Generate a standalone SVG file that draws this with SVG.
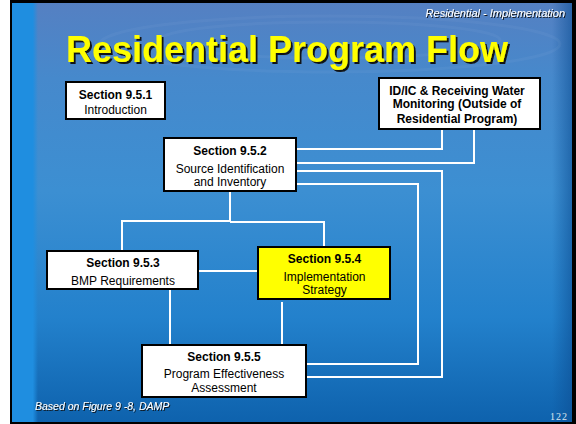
<svg xmlns="http://www.w3.org/2000/svg" width="576" height="424" viewBox="0 0 576 424">
<defs>
<linearGradient id="bg" x1="0" y1="0" x2="0" y2="1">
<stop offset="0" stop-color="#5580c2"/>
<stop offset="0.18" stop-color="#4689cc"/>
<stop offset="0.45" stop-color="#3c8fd2"/>
<stop offset="0.75" stop-color="#2381cc"/>
<stop offset="1" stop-color="#0e62ad"/>
</linearGradient>
<linearGradient id="strip" x1="0" y1="0" x2="1" y2="0">
<stop offset="0" stop-color="#1f8ee0"/>
<stop offset="0.8" stop-color="#1f8ee0"/>
<stop offset="1" stop-color="#1f8ee0" stop-opacity="0"/>
</linearGradient>
<linearGradient id="rightEdge" x1="0" y1="0" x2="1" y2="0">
<stop offset="0" stop-color="#0d4f94" stop-opacity="0"/>
<stop offset="1" stop-color="#0d4f94" stop-opacity="0.6"/>
</linearGradient>
<filter id="sh" x="-5%" y="-20%" width="110%" height="140%">
<feDropShadow dx="2" dy="2" stdDeviation="0.4" flood-color="#111" flood-opacity="0.95"/>
</filter>
<filter id="shs" x="-5%" y="-20%" width="110%" height="140%">
<feDropShadow dx="1" dy="1" stdDeviation="0.3" flood-color="#111" flood-opacity="0.9"/>
</filter>
<style>
.box{fill:#ffffff;stroke:#000;stroke-width:2}
.hl{fill:#ffff00}
.t{font-family:"Liberation Sans",Arial,sans-serif;font-size:12px;fill:#000;text-anchor:middle}
.b{font-weight:bold}
.conn path{fill:none;stroke:#ffffff;stroke-width:2}
.it{font-family:"Liberation Sans",Arial,sans-serif;font-style:italic;fill:#ffffff}
</style>
</defs>
<rect x="0" y="0" width="576" height="424" fill="#ffffff"/>
<rect x="10" y="0" width="566" height="424" fill="#000"/>
<rect x="12" y="3" width="560" height="419" fill="url(#bg)"/>
<rect x="12" y="3" width="26" height="419" fill="url(#strip)"/>
<rect x="552" y="3" width="20" height="419" fill="url(#rightEdge)"/>
<g fill="none" stroke="#ffffff" stroke-opacity="0.04" stroke-width="3">
<ellipse cx="330" cy="40" rx="170" ry="18"/>
<ellipse cx="330" cy="44" rx="230" ry="28"/>
</g>
<g id="header">
<text x="565" y="17" class="it" font-size="11" text-anchor="end" filter="url(#shs)">Residential - Implementation</text>
<text x="287" y="62" font-family="Liberation Sans,Arial,sans-serif" font-weight="bold" font-size="36" fill="#ffff00" text-anchor="middle" filter="url(#sh)">Residential Program Flow</text>
</g>
<g class="conn" id="connectors">
<path d="M296,149 H442 V129"/>
<path d="M296,163 H474 V129"/>
<path d="M296,171 H442 V377 H306"/>
<path d="M296,184 H418 V364 H306"/>
<path d="M230,191 V222"/>
<path d="M122,251 V221 H230"/>
<path d="M230,222 H324 V247"/>
<path d="M198,271 H258"/>
<path d="M170,289 V345"/>
<path d="M282,302 V345"/>
</g>
<g id="n951">
<rect class="box" x="66" y="82" width="99" height="37"/>
<text class="t b" x="115.5" y="99">Section 9.5.1</text>
<text class="t" x="115.5" y="114">Introduction</text>
</g>
<g id="nidic">
<rect class="box" x="379" y="78" width="161" height="51"/>
<text class="t b" x="457" y="95">ID/IC &amp; Receiving Water</text>
<text class="t b" x="457" y="108">Monitoring (Outside of</text>
<text class="t b" x="457" y="123">Residential Program)</text>
</g>
<g id="n952">
<rect class="box" x="164" y="138" width="132" height="53"/>
<text class="t b" x="230" y="155">Section 9.5.2</text>
<text class="t" x="230" y="173">Source Identification</text>
<text class="t" x="230" y="186">and Inventory</text>
</g>
<g id="n953">
<rect class="box" x="47" y="251" width="151" height="38"/>
<text class="t b" x="123" y="267">Section 9.5.3</text>
<text class="t" x="123" y="285">BMP Requirements</text>
</g>
<g id="n954">
<rect class="box hl" x="258" y="247" width="132" height="52"/>
<text class="t b" x="324.5" y="263">Section 9.5.4</text>
<text class="t" x="324.5" y="281">Implementation</text>
<text class="t" x="324.5" y="294">Strategy</text>
</g>
<g id="n955">
<rect class="box" x="142" y="345" width="164" height="52"/>
<text class="t b" x="224" y="361">Section 9.5.5</text>
<text class="t" x="224" y="378">Program Effectiveness</text>
<text class="t" x="224" y="392">Assessment</text>
</g>
<g id="footer">
<text x="35" y="410" class="it" font-size="10.5" filter="url(#shs)">Based on Figure 9 -8, DAMP</text>
<text x="568" y="420" font-family="Liberation Serif,serif" font-size="10" fill="#dde6f0" text-anchor="end" letter-spacing="1">122</text>
</g>
</svg>
